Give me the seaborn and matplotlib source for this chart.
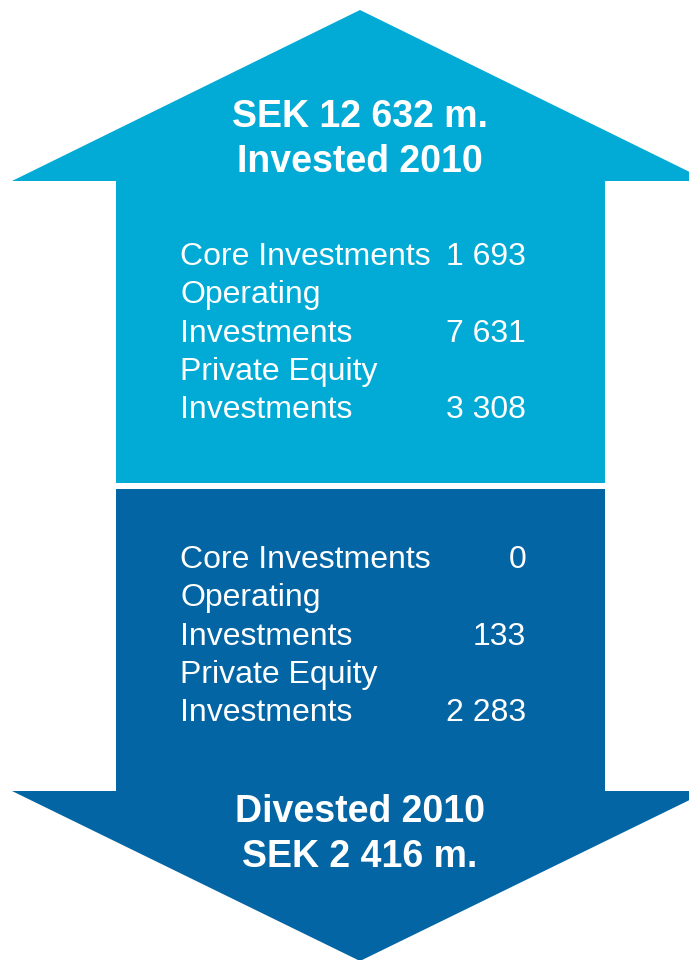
import matplotlib.pyplot as plt
import seaborn as sns
from matplotlib.patches import Polygon

# Data (SEK m.)
categories = ['Core Investments', 'Operating\nInvestments', 'Private Equity\nInvestments']
invested = [1693, 7631, 3308]
divested = [0, 133, 2283]
invested_total = 12632
divested_total = 2416
year = 2010

sns.set_theme(style='white')
plt.rcParams['font.family'] = ['Liberation Sans', 'DejaVu Sans']

light_blue = '#02abd5'
dark_blue = '#0365a3'


def fmt(v):
    # thousands separated by a space, like the source
    return f'{v:,}'.replace(',', ' ')


fig = plt.figure(figsize=(6.89, 9.6), dpi=100)
ax = fig.add_axes([0, 0, 1, 1])
ax.set_xlim(0, 689)
ax.set_ylim(960, 0)
ax.axis('off')

# up arrow (invested)
up = [(360, 10), (708, 181), (605, 181), (605, 483), (116, 483), (116, 181), (12, 181)]
ax.add_patch(Polygon(up, closed=True, facecolor=light_blue, edgecolor='none'))

# down arrow (divested)
down = [(116, 489), (605, 489), (605, 791), (708, 791), (360, 961), (12, 791), (116, 791)]
ax.add_patch(Polygon(down, closed=True, facecolor=dark_blue, edgecolor='none'))

# headlines
head_kw = dict(color='white', fontsize=27, fontweight='bold', ha='center', va='baseline')
ax.text(360, 127, f'SEK {fmt(invested_total)} m.', **head_kw)
ax.text(360, 172, f'Invested {year}', **head_kw)
ax.text(360, 822, f'Divested {year}', **head_kw)
ax.text(360, 867, f'SEK {fmt(divested_total)} m.', **head_kw)


def table(values, y0):
    step = 38.3
    row = 0
    for cat, val in zip(categories, values):
        lines = cat.split('\n')
        for i, line in enumerate(lines):
            y = y0 + (row + i) * step
            ax.text(180, y, line, color='white', fontsize=23, ha='left', va='baseline')
        y_last = y0 + (row + len(lines) - 1) * step
        ax.text(526, y_last, fmt(val), color='white', fontsize=23, ha='right', va='baseline')
        row += len(lines)


table(invested, 265)
table(divested, 568)

fig.savefig('out.png', dpi=100, facecolor='white')
